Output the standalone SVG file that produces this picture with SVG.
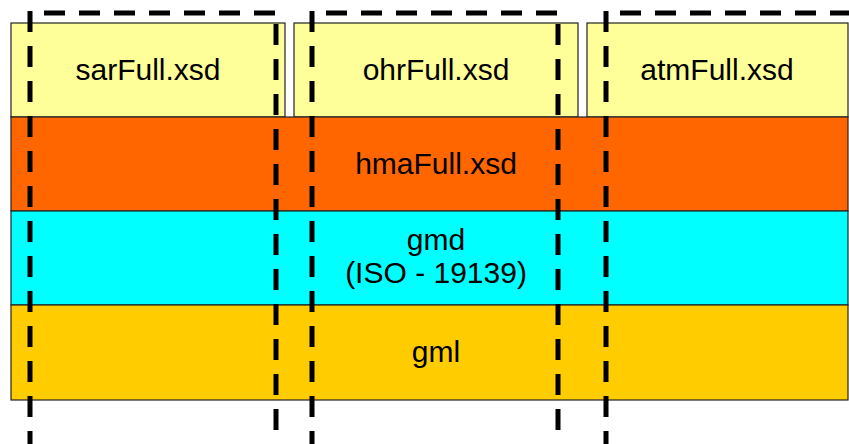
<svg xmlns="http://www.w3.org/2000/svg" width="849" height="444" viewBox="0 0 849 444">
  <style>
    .box { stroke: #222; stroke-width: 1.2; }
    .file { fill: #FFFF99; }
    .hma { fill: #FF6600; }
    .gmd { fill: #00FFFF; }
    .gml { fill: #FFCC00; }
    text { font-family: "Liberation Sans", Arial, sans-serif; font-size: 30px; fill: #000; text-anchor: middle; }
    .dash { fill: none; stroke: #000; stroke-width: 5; stroke-dasharray: 21 14; }
    .top { stroke-dashoffset: 21; }
    .right { stroke-dashoffset: 24; }
  </style>
  <defs>
    <!-- one dashed grouping frame: left, top, right and bottom sides -->
    <g id="frame">
      <path class="dash" d="M0 -2 V 436"/>
      <path class="dash top" d="M0 0 H 246"/>
      <path class="dash right" d="M246 0 V 436"/>
      <path class="dash" d="M0 433.5 H 246"/>
    </g>
  </defs>
  <rect width="849" height="444" fill="#fff"/>

  <g id="sarFull">
    <rect class="box file" x="11" y="23" width="274" height="94"/>
    <text x="148" y="80">sarFull.xsd</text>
  </g>
  <g id="ohrFull">
    <rect class="box file" x="294" y="23" width="284" height="94"/>
    <text x="436" y="80">ohrFull.xsd</text>
  </g>
  <g id="atmFull">
    <rect class="box file" x="587" y="23" width="261" height="94"/>
    <text x="717" y="80">atmFull.xsd</text>
  </g>
  <g id="hmaFull">
    <rect class="box hma" x="11" y="117" width="837" height="94"/>
    <text x="436" y="174">hmaFull.xsd</text>
  </g>
  <g id="gmd">
    <rect class="box gmd" x="11" y="211" width="837" height="94"/>
    <text x="436" y="250">gmd</text>
    <text x="436" y="283">(ISO - 19139)</text>
  </g>
  <g id="gml">
    <rect class="box gml" x="11" y="305" width="837" height="95"/>
    <text x="436" y="362">gml</text>
  </g>

  <g id="groups">
    <use href="#frame" x="30" y="13"/>
    <use href="#frame" x="312" y="13"/>
    <use href="#frame" x="606" y="13"/>
  </g>
</svg>
